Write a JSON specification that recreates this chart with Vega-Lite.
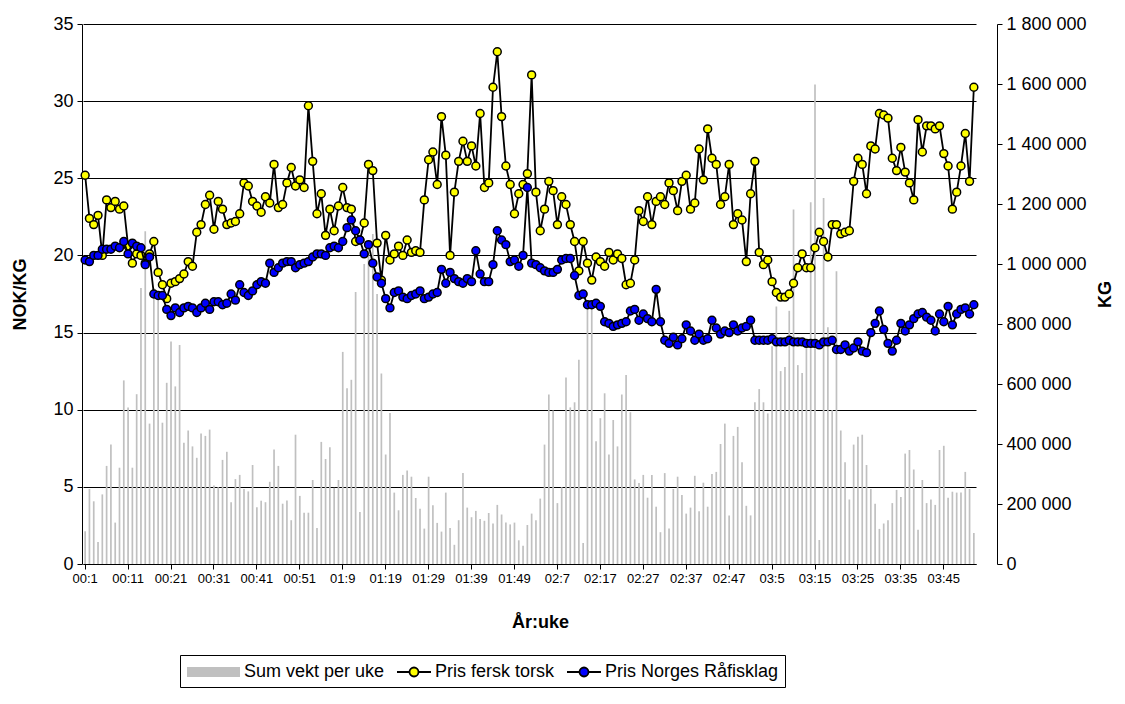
{
"$schema":"https://vega.github.io/schema/vega-lite/v6.json",
"width":915,"height":540,"autosize":"none",
"padding":{"left":82,"top":24,"right":128,"bottom":140},
"background":"white",
"config":{"font":"Liberation Sans","view":{"stroke":null},
"locale":{"number":{"decimal":",","thousands":" ","grouping":[3],"currency":["",""]}},
"axis":{"labelFont":"Liberation Sans","titleFont":"Liberation Sans","labelColor":"black","titleColor":"black","domainColor":"black","tickColor":"black","domainWidth":1,"tickWidth":1}},
"data":{"values":[
{"uke":"00:1","kg":109000,"torsk":25.2,"rafisk":19.7},{"uke":"00:2","kg":250000,"torsk":22.4,"rafisk":19.6},{"uke":"00:3","kg":209000,"torsk":22.0,"rafisk":20.0},{"uke":"00:4","kg":73000,"torsk":22.6,"rafisk":20.0},{"uke":"00:5","kg":232000,"torsk":20.0,"rafisk":20.4},{"uke":"00:6","kg":327000,"torsk":23.6,"rafisk":20.4},{"uke":"00:7","kg":398000,"torsk":23.1,"rafisk":20.4},{"uke":"00:8","kg":138000,"torsk":23.5,"rafisk":20.6},{"uke":"00:9","kg":321000,"torsk":23.0,"rafisk":20.5},{"uke":"00:10","kg":612000,"torsk":23.2,"rafisk":20.9},
{"uke":"00:11","kg":522000,"torsk":20.6,"rafisk":20.1},{"uke":"00:12","kg":321000,"torsk":19.5,"rafisk":20.8},{"uke":"00:13","kg":566000,"torsk":20.1,"rafisk":20.6},{"uke":"00:14","kg":920000,"torsk":20.0,"rafisk":20.5},{"uke":"00:15","kg":1109000,"torsk":19.5,"rafisk":19.4},{"uke":"00:16","kg":468000,"torsk":20.1,"rafisk":19.9},{"uke":"00:17","kg":920000,"torsk":20.9,"rafisk":17.5},{"uke":"00:18","kg":881000,"torsk":18.9,"rafisk":17.4},{"uke":"00:19","kg":471000,"torsk":18.1,"rafisk":17.4},{"uke":"00:20","kg":604000,"torsk":17.2,"rafisk":16.5},
{"uke":"00:21","kg":742000,"torsk":18.2,"rafisk":16.1},{"uke":"00:22","kg":592000,"torsk":18.3,"rafisk":16.6},{"uke":"00:23","kg":730000,"torsk":18.5,"rafisk":16.3},{"uke":"00:24","kg":404000,"torsk":18.8,"rafisk":16.6},{"uke":"00:25","kg":445000,"torsk":19.6,"rafisk":16.7},{"uke":"00:26","kg":392000,"torsk":19.3,"rafisk":16.6},{"uke":"00:27","kg":354000,"torsk":21.5,"rafisk":16.3},{"uke":"00:28","kg":435000,"torsk":22.0,"rafisk":16.6},{"uke":"00:29","kg":427000,"torsk":23.3,"rafisk":16.9},{"uke":"00:30","kg":448000,"torsk":23.9,"rafisk":16.5},
{"uke":"00:31","kg":262000,"torsk":21.7,"rafisk":17.0},{"uke":"00:32","kg":256000,"torsk":23.5,"rafisk":17.0},{"uke":"00:33","kg":347000,"torsk":23.0,"rafisk":16.8},{"uke":"00:34","kg":374000,"torsk":22.0,"rafisk":16.9},{"uke":"00:35","kg":206000,"torsk":22.1,"rafisk":17.5},{"uke":"00:36","kg":283000,"torsk":22.2,"rafisk":17.1},{"uke":"00:37","kg":297000,"torsk":22.7,"rafisk":18.1},{"uke":"00:38","kg":250000,"torsk":24.7,"rafisk":17.6},{"uke":"00:39","kg":242000,"torsk":24.5,"rafisk":17.4},{"uke":"00:40","kg":330000,"torsk":23.5,"rafisk":17.7},
{"uke":"00:41","kg":189000,"torsk":23.2,"rafisk":18.1},{"uke":"00:42","kg":211000,"torsk":22.8,"rafisk":18.3},{"uke":"00:43","kg":206000,"torsk":23.8,"rafisk":18.2},{"uke":"00:44","kg":274000,"torsk":23.4,"rafisk":19.5},{"uke":"00:45","kg":382000,"torsk":25.9,"rafisk":18.9},{"uke":"00:46","kg":327000,"torsk":23.1,"rafisk":19.2},{"uke":"00:47","kg":201000,"torsk":23.3,"rafisk":19.5},{"uke":"00:48","kg":212000,"torsk":24.7,"rafisk":19.6},{"uke":"00:49","kg":146000,"torsk":25.7,"rafisk":19.6},{"uke":"00:50","kg":431000,"torsk":24.5,"rafisk":19.2},
{"uke":"00:51","kg":227000,"torsk":24.9,"rafisk":19.4},{"uke":"00:52","kg":171000,"torsk":24.4,"rafisk":19.5},{"uke":"01:1","kg":171000,"torsk":29.7,"rafisk":19.6},{"uke":"01:2","kg":280000,"torsk":26.1,"rafisk":19.9},{"uke":"01:3","kg":120000,"torsk":22.7,"rafisk":20.1},{"uke":"01:4","kg":407000,"torsk":24.0,"rafisk":20.1},{"uke":"01:5","kg":350000,"torsk":21.3,"rafisk":20.0},{"uke":"01:6","kg":389000,"torsk":23.0,"rafisk":20.5},{"uke":"01:7","kg":254000,"torsk":21.6,"rafisk":20.6},{"uke":"01:8","kg":280000,"torsk":23.2,"rafisk":20.5},
{"uke":"01:9","kg":707000,"torsk":24.4,"rafisk":20.9},{"uke":"01:10","kg":586000,"torsk":23.1,"rafisk":21.8},{"uke":"01:11","kg":614000,"torsk":23.0,"rafisk":22.3},{"uke":"01:12","kg":907000,"torsk":20.9,"rafisk":21.6},{"uke":"01:13","kg":173000,"torsk":21.0,"rafisk":21.0},{"uke":"01:14","kg":1000000,"torsk":22.1,"rafisk":20.1},{"uke":"01:15","kg":1050000,"torsk":25.9,"rafisk":20.7},{"uke":"01:16","kg":1100000,"torsk":25.5,"rafisk":19.5},{"uke":"01:17","kg":900000,"torsk":20.8,"rafisk":18.6},{"uke":"01:18","kg":635000,"torsk":18.4,"rafisk":18.2},
{"uke":"01:19","kg":365000,"torsk":21.3,"rafisk":17.2},{"uke":"01:20","kg":503000,"torsk":19.7,"rafisk":16.6},{"uke":"01:21","kg":238000,"torsk":20.1,"rafisk":17.6},{"uke":"01:22","kg":179000,"torsk":20.6,"rafisk":17.7},{"uke":"01:23","kg":297000,"torsk":20.0,"rafisk":17.3},{"uke":"01:24","kg":312000,"torsk":21.0,"rafisk":17.2},{"uke":"01:25","kg":291000,"torsk":20.2,"rafisk":17.4},{"uke":"01:26","kg":220000,"torsk":20.3,"rafisk":17.5},{"uke":"01:27","kg":184000,"torsk":20.2,"rafisk":17.7},{"uke":"01:28","kg":118000,"torsk":23.6,"rafisk":17.2},
{"uke":"01:29","kg":291000,"torsk":26.2,"rafisk":17.3},{"uke":"01:30","kg":196000,"torsk":26.7,"rafisk":17.5},{"uke":"01:31","kg":137000,"torsk":24.6,"rafisk":17.6},{"uke":"01:32","kg":108000,"torsk":29.0,"rafisk":19.1},{"uke":"01:33","kg":238000,"torsk":26.5,"rafisk":18.2},{"uke":"01:34","kg":120000,"torsk":20.0,"rafisk":18.9},{"uke":"01:35","kg":64000,"torsk":24.1,"rafisk":18.5},{"uke":"01:36","kg":146000,"torsk":26.1,"rafisk":18.3},{"uke":"01:37","kg":303000,"torsk":27.4,"rafisk":18.2},{"uke":"01:38","kg":188000,"torsk":26.1,"rafisk":18.5},
{"uke":"01:39","kg":156000,"torsk":27.1,"rafisk":18.3},{"uke":"01:40","kg":177000,"torsk":25.8,"rafisk":20.3},{"uke":"01:41","kg":150000,"torsk":29.2,"rafisk":18.8},{"uke":"01:42","kg":144000,"torsk":24.4,"rafisk":18.3},{"uke":"01:43","kg":170000,"torsk":24.7,"rafisk":18.3},{"uke":"01:44","kg":135000,"torsk":30.9,"rafisk":19.4},{"uke":"01:45","kg":197000,"torsk":33.2,"rafisk":21.6},{"uke":"01:46","kg":165000,"torsk":29.0,"rafisk":21.0},{"uke":"01:47","kg":138000,"torsk":25.8,"rafisk":20.7},{"uke":"01:48","kg":132000,"torsk":24.6,"rafisk":19.6},
{"uke":"01:49","kg":138000,"torsk":22.7,"rafisk":19.7},{"uke":"01:50","kg":79000,"torsk":24.0,"rafisk":19.3},{"uke":"01:51","kg":61000,"torsk":24.6,"rafisk":20.0},{"uke":"01:52","kg":130000,"torsk":25.3,"rafisk":24.4},{"uke":"02:1","kg":168000,"torsk":31.7,"rafisk":19.5},{"uke":"02:2","kg":146000,"torsk":24.1,"rafisk":19.4},{"uke":"02:3","kg":218000,"torsk":21.6,"rafisk":19.2},{"uke":"02:4","kg":398000,"torsk":23.0,"rafisk":19.0},{"uke":"02:5","kg":565000,"torsk":24.8,"rafisk":18.9},{"uke":"02:6","kg":512000,"torsk":24.2,"rafisk":18.9},
{"uke":"02:7","kg":203000,"torsk":22.0,"rafisk":19.1},{"uke":"02:8","kg":256000,"torsk":23.8,"rafisk":19.7},{"uke":"02:9","kg":622000,"torsk":23.3,"rafisk":19.8},{"uke":"02:10","kg":522000,"torsk":22.0,"rafisk":19.8},{"uke":"02:11","kg":539000,"torsk":20.9,"rafisk":18.7},{"uke":"02:12","kg":681000,"torsk":19.0,"rafisk":17.4},{"uke":"02:13","kg":70000,"torsk":20.9,"rafisk":17.5},{"uke":"02:14","kg":860000,"torsk":19.5,"rafisk":16.8},{"uke":"02:15","kg":860000,"torsk":18.4,"rafisk":16.8},{"uke":"02:16","kg":409000,"torsk":19.9,"rafisk":16.9},
{"uke":"02:17","kg":486000,"torsk":19.6,"rafisk":16.7},{"uke":"02:18","kg":569000,"torsk":19.3,"rafisk":15.7},{"uke":"02:19","kg":365000,"torsk":20.2,"rafisk":15.6},{"uke":"02:20","kg":480000,"torsk":19.7,"rafisk":15.4},{"uke":"02:21","kg":392000,"torsk":20.1,"rafisk":15.5},{"uke":"02:22","kg":565000,"torsk":19.8,"rafisk":15.6},{"uke":"02:23","kg":630000,"torsk":18.1,"rafisk":15.7},{"uke":"02:24","kg":506000,"torsk":18.2,"rafisk":16.4},{"uke":"02:25","kg":282000,"torsk":19.7,"rafisk":16.5},{"uke":"02:26","kg":270000,"torsk":22.9,"rafisk":15.8},
{"uke":"02:27","kg":297000,"torsk":22.2,"rafisk":16.2},{"uke":"02:28","kg":221000,"torsk":23.8,"rafisk":15.9},{"uke":"02:29","kg":297000,"torsk":22.0,"rafisk":15.7},{"uke":"02:30","kg":191000,"torsk":23.5,"rafisk":17.8},{"uke":"02:31","kg":106000,"torsk":23.8,"rafisk":15.7},{"uke":"02:32","kg":303000,"torsk":23.3,"rafisk":14.5},{"uke":"02:33","kg":118000,"torsk":24.7,"rafisk":14.3},{"uke":"02:34","kg":250000,"torsk":24.2,"rafisk":14.7},{"uke":"02:35","kg":291000,"torsk":22.9,"rafisk":14.2},{"uke":"02:36","kg":230000,"torsk":24.8,"rafisk":14.6},
{"uke":"02:37","kg":168000,"torsk":25.2,"rafisk":15.5},{"uke":"02:38","kg":188000,"torsk":23.0,"rafisk":15.1},{"uke":"02:39","kg":294000,"torsk":23.4,"rafisk":14.5},{"uke":"02:40","kg":176000,"torsk":26.9,"rafisk":14.9},{"uke":"02:41","kg":271000,"torsk":24.9,"rafisk":14.5},{"uke":"02:42","kg":191000,"torsk":28.2,"rafisk":14.6},{"uke":"02:43","kg":300000,"torsk":26.3,"rafisk":15.8},{"uke":"02:44","kg":307000,"torsk":25.9,"rafisk":15.3},{"uke":"02:45","kg":400000,"torsk":23.3,"rafisk":14.9},{"uke":"02:46","kg":468000,"torsk":23.8,"rafisk":15.1},
{"uke":"02:47","kg":162000,"torsk":25.9,"rafisk":15.0},{"uke":"02:48","kg":427000,"torsk":22.0,"rafisk":15.5},{"uke":"02:49","kg":457000,"torsk":22.7,"rafisk":15.1},{"uke":"02:50","kg":339000,"torsk":22.3,"rafisk":15.3},{"uke":"02:51","kg":194000,"torsk":19.6,"rafisk":15.4},{"uke":"02:52","kg":162000,"torsk":24.0,"rafisk":15.8},{"uke":"03:1","kg":539000,"torsk":26.1,"rafisk":14.5},{"uke":"03:2","kg":583000,"torsk":20.2,"rafisk":14.5},{"uke":"03:3","kg":539000,"torsk":19.4,"rafisk":14.5},{"uke":"03:4","kg":502000,"torsk":19.7,"rafisk":14.5},
{"uke":"03:5","kg":726000,"torsk":18.3,"rafisk":14.6},{"uke":"03:6","kg":858000,"torsk":17.6,"rafisk":14.4},{"uke":"03:7","kg":643000,"torsk":17.3,"rafisk":14.4},{"uke":"03:8","kg":657000,"torsk":17.3,"rafisk":14.4},{"uke":"03:9","kg":844000,"torsk":17.5,"rafisk":14.5},{"uke":"03:10","kg":1182000,"torsk":18.2,"rafisk":14.4},{"uke":"03:11","kg":663000,"torsk":19.2,"rafisk":14.4},{"uke":"03:12","kg":637000,"torsk":20.1,"rafisk":14.4},{"uke":"03:13","kg":728000,"torsk":19.2,"rafisk":14.3},{"uke":"03:14","kg":1206000,"torsk":19.2,"rafisk":14.3},
{"uke":"03:15","kg":1598000,"torsk":20.5,"rafisk":14.3},{"uke":"03:16","kg":80000,"torsk":21.5,"rafisk":14.2},{"uke":"03:17","kg":1220000,"torsk":20.9,"rafisk":14.4},{"uke":"03:18","kg":789000,"torsk":19.9,"rafisk":14.4},{"uke":"03:19","kg":513000,"torsk":22.0,"rafisk":14.5},{"uke":"03:20","kg":976000,"torsk":22.0,"rafisk":13.9},{"uke":"03:21","kg":445000,"torsk":21.4,"rafisk":13.9},{"uke":"03:22","kg":339000,"torsk":21.5,"rafisk":14.2},{"uke":"03:23","kg":215000,"torsk":21.6,"rafisk":13.8},{"uke":"03:24","kg":398000,"torsk":24.8,"rafisk":14.0},
{"uke":"03:25","kg":424000,"torsk":26.3,"rafisk":14.4},{"uke":"03:26","kg":431000,"torsk":25.9,"rafisk":13.8},{"uke":"03:27","kg":330000,"torsk":24.0,"rafisk":13.7},{"uke":"03:28","kg":250000,"torsk":27.1,"rafisk":15.0},{"uke":"03:29","kg":201000,"torsk":26.9,"rafisk":15.6},{"uke":"03:30","kg":117000,"torsk":29.2,"rafisk":16.4},{"uke":"03:31","kg":135000,"torsk":29.1,"rafisk":15.2},{"uke":"03:32","kg":146000,"torsk":28.9,"rafisk":14.3},{"uke":"03:33","kg":203000,"torsk":26.3,"rafisk":13.8},{"uke":"03:34","kg":247000,"torsk":25.5,"rafisk":14.5},
{"uke":"03:35","kg":223000,"torsk":27.0,"rafisk":15.6},{"uke":"03:36","kg":368000,"torsk":25.4,"rafisk":15.1},{"uke":"03:37","kg":380000,"torsk":24.7,"rafisk":15.5},{"uke":"03:38","kg":315000,"torsk":23.6,"rafisk":15.9},{"uke":"03:39","kg":114000,"torsk":28.8,"rafisk":16.2},{"uke":"03:40","kg":280000,"torsk":26.7,"rafisk":16.3},{"uke":"03:41","kg":203000,"torsk":28.4,"rafisk":16.0},{"uke":"03:42","kg":215000,"torsk":28.4,"rafisk":15.8},{"uke":"03:43","kg":197000,"torsk":28.2,"rafisk":15.1},{"uke":"03:44","kg":380000,"torsk":28.4,"rafisk":16.2},
{"uke":"03:45","kg":394000,"torsk":26.6,"rafisk":15.7},{"uke":"03:46","kg":221000,"torsk":25.8,"rafisk":16.7},{"uke":"03:47","kg":241000,"torsk":23.0,"rafisk":15.5},{"uke":"03:48","kg":238000,"torsk":24.1,"rafisk":16.2},{"uke":"03:49","kg":238000,"torsk":25.8,"rafisk":16.5},{"uke":"03:50","kg":307000,"torsk":27.9,"rafisk":16.6},{"uke":"03:51","kg":250000,"torsk":24.8,"rafisk":16.2},{"uke":"03:52","kg":103000,"torsk":30.9,"rafisk":16.8}
]},
"encoding":{"x":{"field":"uke","type":"ordinal","sort":null,"scale":{"paddingInner":0,"paddingOuter":0,"range":[1,894]},
"axis":{"title":"År:uke","titleFontSize":18,"titleFontWeight":"bold","titleX":458,"titleY":58,"titleAlign":"center","titleBaseline":"middle","titleAngle":0,
"values":["00:1","00:11","00:21","00:31","00:41","00:51","01:9","01:19","01:29","01:39","01:49","02:7","02:17","02:27","02:37","02:47","03:5","03:15","03:25","03:35","03:45"],
"labelAngle":0,"labelFontSize":13,"labelPadding":3,"tickSize":5,"grid":false,"labelFlush":false,"labelBound":false,"labelOverlap":false}}},
"layer":[
{"mark":{"type":"bar","size":1.7},
 "encoding":{
  "y":{"field":"kg","type":"quantitative","scale":{"domain":[0,1800000],"nice":false,"zero":true},
   "axis":{"orient":"right","title":"KG","titleFontSize":18,"titleFontWeight":"bold","titleAngle":270,"titleX":108,"titleY":270,"titleAlign":"center","titleBaseline":"middle",
    "values":[0,200000,400000,600000,800000,1000000,1200000,1400000,1600000,1800000],"format":",d","grid":false,"tickSize":5,"labelFontSize":18,"labelPadding":4}},
  "color":{"datum":"kg","type":"nominal",
   "scale":{"domain":["kg","torsk","rafisk"],"range":["#c0c0c0","#ffff00","#0000ff"]},
   "legend":{"orient":"none","legendX":98,"legendY":631,"direction":"horizontal","title":null,
    "labelExpr":"datum.value == 'kg' ? 'Sum vekt per uke' : datum.value == 'torsk' ? 'Pris fersk torsk' : 'Pris Norges Råfisklag'",
    "labelFontSize":18,"labelFont":"Liberation Sans","labelColor":"black","labelLimit":400,"labelOffset":3,
    "symbolSize":400,"columnPadding":8,"strokeColor":"black","padding":6,
    "encode":{
     "symbols":{"update":{
      "shape":{"signal":"datum.value == 'kg' ? 'M-1,-0.5L4.3,-0.5L4.3,0.5L-1,0.5Z' : 'M-1,0L0.25,0M1.15,0L2.4,0M0.25,0A0.45,0.45 0 1 1 1.15,0A0.45,0.45 0 1 1 0.25,0Z'"},
      "stroke":{"signal":"datum.value == 'kg' ? 'transparent' : 'black'"},
      "strokeWidth":{"value":1.8},
      "fill":{"signal":"datum.value == 'kg' ? '#c0c0c0' : datum.value == 'torsk' ? '#ffff00' : '#0000ff'"},
      "opacity":{"value":1}}},
     "labels":{"update":{"dx":{"signal":"datum.value == 'kg' ? 33 : 14"}}}}}}}},
{"layer":[
 {"mark":{"type":"line","color":"black","strokeWidth":1.8},
  "encoding":{"y":{"field":"torsk","type":"quantitative","scale":{"domain":[0,35],"nice":false},
   "axis":{"orient":"left","title":"NOK/KG","titleFontSize":18,"titleFontWeight":"bold","titleAngle":270,"titleX":-62,"titleY":270,"titleAlign":"center","titleBaseline":"middle","values":[0,5,10,15,20,25,30,35],"grid":true,"gridColor":"black","gridWidth":1,"gridOpacity":1,"tickSize":5,"labelFontSize":18,"labelPadding":4}}}},
 {"mark":{"type":"point","filled":true,"stroke":"black","strokeWidth":1.5,"size":62,"opacity":1},
  "encoding":{"y":{"field":"torsk","type":"quantitative","scale":{"domain":[0,35],"nice":false},
   "axis":{"orient":"left","title":"NOK/KG","titleFontSize":18,"titleFontWeight":"bold","titleAngle":270,"titleX":-62,"titleY":270,"titleAlign":"center","titleBaseline":"middle","values":[0,5,10,15,20,25,30,35],"grid":true,"gridColor":"black","gridWidth":1,"gridOpacity":1,"tickSize":5,"labelFontSize":18,"labelPadding":4}},
   "color":{"datum":"torsk","type":"nominal"}}},
 {"mark":{"type":"line","color":"black","strokeWidth":1.8},
  "encoding":{"y":{"field":"rafisk","type":"quantitative","scale":{"domain":[0,35],"nice":false},
   "axis":{"orient":"left","title":"NOK/KG","titleFontSize":18,"titleFontWeight":"bold","titleAngle":270,"titleX":-62,"titleY":270,"titleAlign":"center","titleBaseline":"middle","values":[0,5,10,15,20,25,30,35],"grid":true,"gridColor":"black","gridWidth":1,"gridOpacity":1,"tickSize":5,"labelFontSize":18,"labelPadding":4}}}},
 {"mark":{"type":"point","filled":true,"stroke":"black","strokeWidth":1.5,"size":62,"opacity":1},
  "encoding":{"y":{"field":"rafisk","type":"quantitative","scale":{"domain":[0,35],"nice":false},
   "axis":{"orient":"left","title":"NOK/KG","titleFontSize":18,"titleFontWeight":"bold","titleAngle":270,"titleX":-62,"titleY":270,"titleAlign":"center","titleBaseline":"middle","values":[0,5,10,15,20,25,30,35],"grid":true,"gridColor":"black","gridWidth":1,"gridOpacity":1,"tickSize":5,"labelFontSize":18,"labelPadding":4}},
   "color":{"datum":"rafisk","type":"nominal"}}}
]}
],
"resolve":{"scale":{"y":"independent"}}
}
